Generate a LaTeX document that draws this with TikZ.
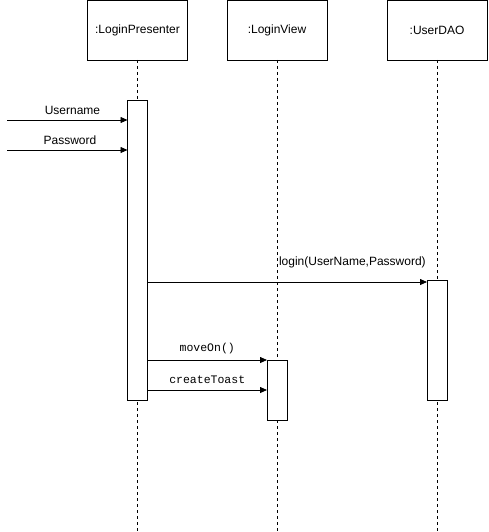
\documentclass[tikz,border=0pt]{standalone}
\usepackage{fontspec}
\setmainfont{Liberation Sans}
\setmonofont{Liberation Mono}
\usetikzlibrary{arrows.meta}
\begin{document}
\begin{tikzpicture}[x=1pt,y=-1pt,
  every node/.style={inner sep=0pt,outer sep=0pt},
  objbox/.style={draw,line width=0.8pt,minimum width=100pt,minimum height=60pt,font=\fontsize{12}{14}\selectfont},
  actbar/.style={draw,fill=white,line width=0.8pt,minimum width=20pt},
  lifeline/.style={dashed,line width=0.8pt,dash pattern=on 3pt off 3pt},
  msg/.style={line width=0.8pt,-{Triangle[length=7pt,width=6pt]}},
  lbl/.style={font=\fontsize{12}{14}\selectfont},
  mlbl/.style={font=\ttfamily\fontsize{11.5}{14}\selectfont}]
\useasboundingbox (0,0) rectangle (488,532);
% object boxes
\node[objbox] (lp) at (137.5,30) {:LoginPresenter};
\node[objbox] (lv) at (277,30) {:LoginView};
\node[objbox] (ud) at (437,30) {:UserDAO};
% lifeline ends
\coordinate (lpe) at (137.5,532);
\coordinate (lve) at (277,532);
\coordinate (ude) at (437,532);
\draw[lifeline] (lp.south) -- (lpe);
\draw[lifeline] (lv.south) -- (lve);
\draw[lifeline] (ud.south) -- (ude);
% activation bars
\node[actbar,minimum height=300pt] (alp) at (137.5,250) {};
\node[actbar,minimum height=120pt] (aud) at (437,340) {};
\node[actbar,minimum height=60pt] (alv) at (277,390) {};
% free ends
\coordinate (u0) at (7,120);
\coordinate (p0) at (7,150);
% messages
\draw[msg] (u0) -- (u0 -| alp.west);
\node[lbl,anchor=base] (ulbl) at (72.5,114) {Username};
\draw[msg] (p0) -- (p0 -| alp.west);
\node[lbl,anchor=base] (plbl) at (70,144) {Password};
\draw[msg] (alp.east |- 0,282) -- (aud.west |- 0,282) coordinate (lgend);
\node[lbl,anchor=south west] (lglbl) at (279,268) {login(UserName,Password)};
\draw[msg] (alp.east |- 0,360) -- (alv.west |- 0,360) node[mlbl,midway,above=6pt] {moveOn()};
\draw[msg] (alp.east |- 0,390) -- (alv.west |- 0,390) node[mlbl,midway,above=6pt] {createToast};
\end{tikzpicture}
\end{document}
